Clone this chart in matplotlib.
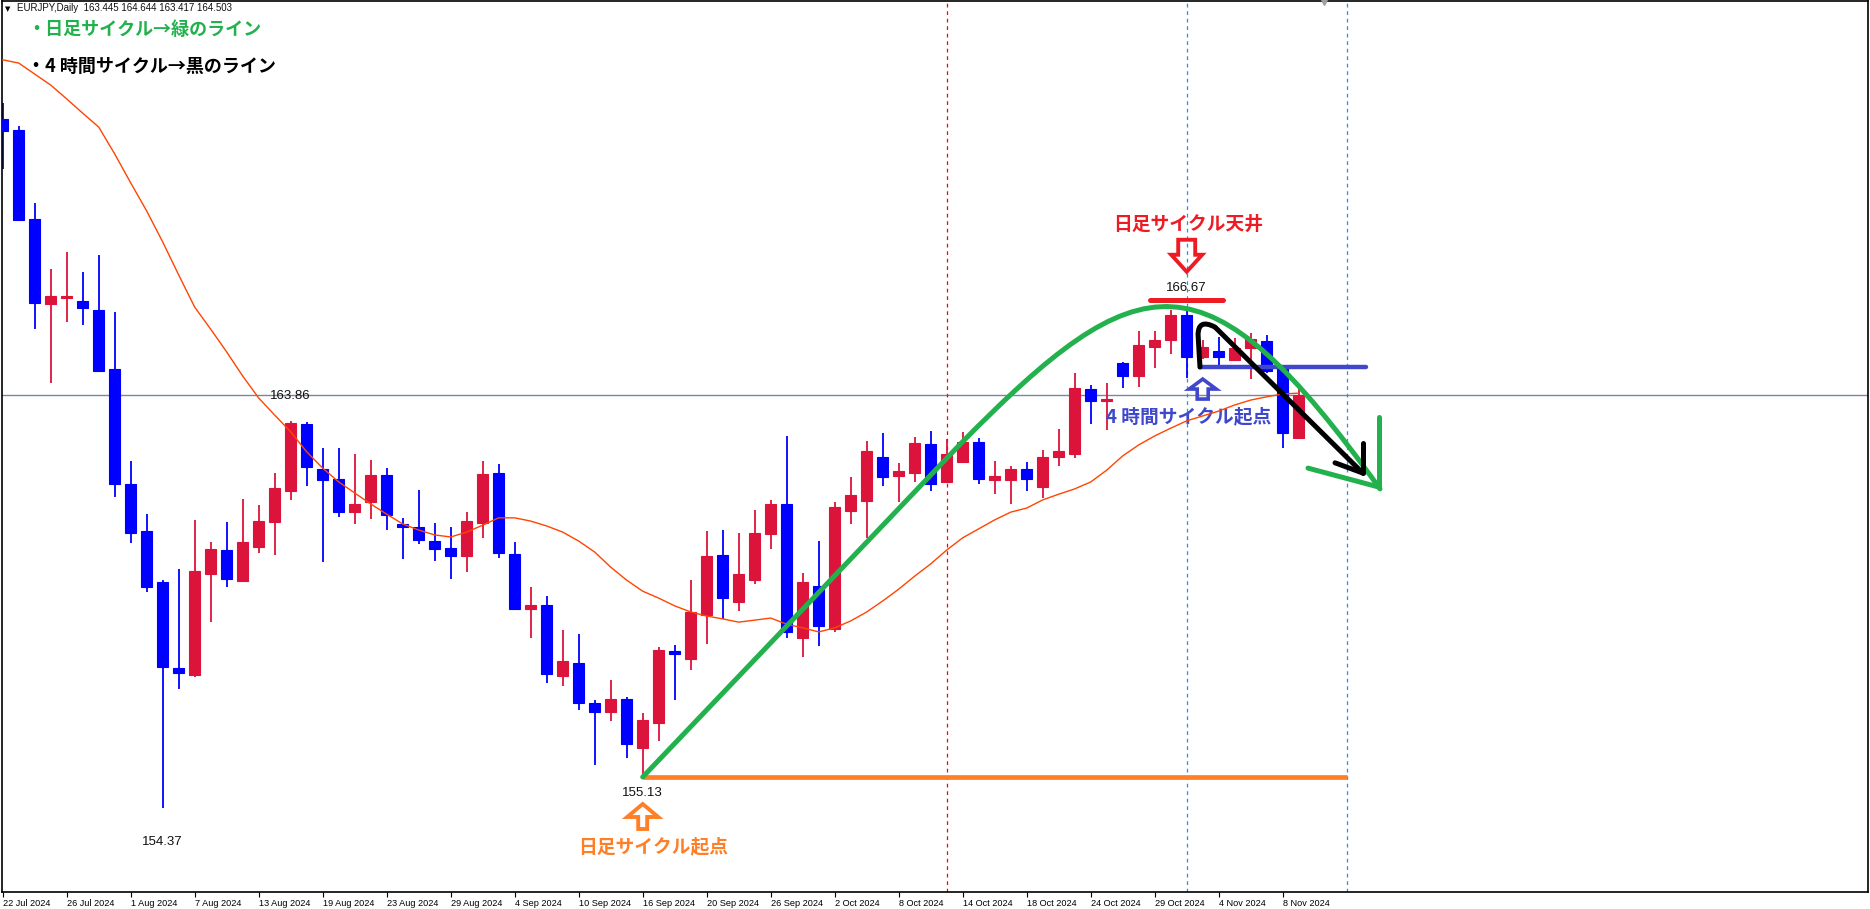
import matplotlib
matplotlib.use("Agg")
import matplotlib.pyplot as plt
import matplotlib.transforms as mtransforms
from matplotlib.patches import Polygon, PathPatch
from matplotlib.path import Path

plt.rcParams['font.family'] = ['Liberation Sans', 'Noto Sans CJK JP', 'DejaVu Sans']
JP = ['Noto Sans CJK JP', 'DejaVu Sans']

# ---- data (EURJPY daily) ----
opens = [171.28, 171.01, 168.82, 166.74, 166.88, 166.81, 166.59, 165.14, 162.33, 161.17,
         159.92, 157.80, 157.63, 160.12, 160.70, 159.95, 160.78, 161.40, 162.16, 163.79,
         162.69, 162.44, 161.64, 161.89, 162.54, 161.34, 161.26, 160.92, 160.75, 160.56,
         161.37, 162.58, 160.60, 159.26, 159.35, 157.61, 157.93, 156.95, 156.73, 157.04,
         155.85, 156.46, 158.22, 158.03, 159.11, 160.58, 159.43, 159.96, 161.09, 161.83,
         158.55, 159.82, 158.76, 161.66, 161.91, 162.99, 162.52, 162.60, 163.29, 162.38,
         162.87, 163.36, 162.42, 162.42, 162.69, 162.25, 162.99, 163.06, 164.65, 164.36,
         165.30, 164.98, 165.69, 165.85, 166.47, 165.44, 165.58, 165.36, 165.65, 165.83,
         165.16, 163.445]
highs = [171.66, 171.11, 169.21, 167.60, 168.01, 167.52, 167.94, 166.55, 162.88, 161.58,
         159.96, 160.23, 161.44, 160.90, 161.39, 161.95, 161.80, 162.59, 163.86, 163.85,
         163.21, 163.20, 163.06, 162.91, 162.71, 161.49, 162.17, 161.37, 161.27, 161.63,
         162.88, 162.81, 160.89, 159.79, 159.57, 158.74, 158.64, 157.02, 157.51, 157.10,
         156.69, 158.33, 158.37, 159.96, 161.17, 161.19, 161.11, 161.68, 161.93, 163.51,
         160.13, 160.92, 161.89, 162.50, 163.38, 163.58, 162.84, 163.48, 163.62, 163.42,
         163.59, 163.44, 162.89, 162.76, 162.87, 163.15, 163.67, 165.04, 164.75, 164.81,
         165.32, 166.07, 166.07, 166.59, 166.67, 165.85, 165.93, 165.90, 166.02, 165.98,
         165.20, 164.644]
lows = [170.05, 168.78, 166.12, 164.81, 166.30, 166.22, 165.08, 162.01, 160.88, 159.68,
        154.37, 157.28, 157.58, 158.94, 159.80, 159.93, 160.63, 160.59, 161.93, 162.28,
        160.41, 161.52, 161.34, 161.46, 161.19, 160.48, 160.85, 160.43, 159.99, 160.17,
        161.00, 160.50, 159.23, 158.55, 157.44, 157.37, 156.77, 155.42, 156.51, 155.60,
        155.13, 156.02, 157.02, 157.76, 158.39, 159.01, 159.21, 159.86, 160.73, 158.53,
        158.08, 158.34, 158.70, 161.34, 160.99, 162.27, 161.89, 162.38, 162.16, 162.36,
        162.83, 162.32, 162.07, 161.83, 162.16, 161.98, 162.77, 162.97, 163.79, 163.65,
        164.67, 164.69, 165.16, 165.50, 164.93, 165.40, 165.24, 165.33, 164.90, 165.05,
        163.20, 163.417]
closes = [170.99, 168.80, 166.77, 166.93, 166.93, 166.65, 165.09, 162.33, 161.13, 159.80,
          157.84, 157.69, 160.19, 160.73, 160.00, 160.90, 161.41, 162.22, 163.81, 162.74,
          162.42, 161.64, 161.83, 162.54, 161.56, 161.27, 160.95, 160.73, 160.56, 161.41,
          162.57, 160.62, 159.25, 159.35, 157.66, 157.98, 156.95, 156.73, 157.04, 155.95,
          156.53, 158.25, 158.15, 159.19, 160.55, 159.53, 160.11, 161.13, 161.83, 158.70,
          159.92, 158.84, 161.75, 162.05, 163.13, 162.50, 162.64, 163.33, 162.31, 163.06,
          163.34, 162.45, 162.52, 162.69, 162.44, 162.98, 163.14, 164.68, 164.36, 164.41,
          164.98, 165.73, 165.85, 166.47, 165.44, 165.69, 165.44, 165.65, 165.87, 165.09,
          163.56, 164.503]
ma = [172.73, 172.65, 172.38, 172.11, 171.77, 171.42, 171.08, 170.42, 169.71, 169.02,
      168.26, 167.45, 166.66, 166.12, 165.56, 164.97, 164.43, 164.01, 163.60, 163.11,
      162.71, 162.37, 162.10, 161.83, 161.58, 161.34, 161.19, 161.07, 161.02, 161.14,
      161.31, 161.49, 161.49, 161.41, 161.29, 161.14, 160.92, 160.65, 160.28, 159.96,
      159.69, 159.52, 159.33, 159.18, 159.08, 159.01, 158.93, 158.98, 159.03, 158.88,
      158.79, 158.69, 158.79, 158.96, 159.18, 159.45, 159.74, 160.06, 160.36, 160.70,
      161.00, 161.22, 161.44, 161.63, 161.73, 161.93, 162.07, 162.20, 162.37, 162.66,
      163.01, 163.28, 163.50, 163.69, 163.87, 163.99, 164.11, 164.26, 164.38, 164.46,
      164.53, 164.55]
date_labels = ["22 Jul 2024", "26 Jul 2024", "1 Aug 2024", "7 Aug 2024", "13 Aug 2024",
               "19 Aug 2024", "23 Aug 2024", "29 Aug 2024", "4 Sep 2024", "10 Sep 2024",
               "16 Sep 2024", "20 Sep 2024", "26 Sep 2024", "2 Oct 2024", "8 Oct 2024",
               "14 Oct 2024", "18 Oct 2024", "24 Oct 2024", "29 Oct 2024", "4 Nov 2024",
               "8 Nov 2024"]
label_step = 4
bid = 164.503
low_bar, top_bar = 40, 74          # daily cycle low / top
cycle4h_level = 165.19             # 4h cycle start level (blue line)
vline_red = [59]
vline_blue = [74, 84]
price_labels = [(18, highs[18], 25), (10, lows[10], -34), (40, lows[40], -16), (74, highs[74], 19)]

UP, DOWN = '#DC143C', '#0000FF'
GREEN, RED, ORANGE, BLUE = '#22B14C', '#ED1C24', '#FF7F27', '#3F48CC'

fig = plt.figure(figsize=(18.70, 9.09), dpi=100)
ax = fig.add_axes([1.5 / 1870, 17 / 909, 1866.5 / 1870, 891 / 909])
ax.set_xlim(-0.075, 116.58)
ax.set_ylim(152.308, 174.173)

n = len(opens)
xs = list(range(n))
cols = [UP if c >= o else DOWN for o, c in zip(opens, closes)]
ax.vlines(xs, lows, highs, colors=cols, lw=1.3, zorder=2)
ax.bar(xs, [abs(c - o) for o, c in zip(opens, closes)],
       bottom=[min(o, c) for o, c in zip(opens, closes)],
       width=0.68, color=cols, edgecolor=cols, lw=0.8, zorder=3)
ax.plot(xs, ma, color='#FF4500', lw=1.0, zorder=4)

ax.axhline(bid, color='#778899', lw=1.0, zorder=1)
for v in vline_red:
    ax.axvline(v, color='#FF0000', lw=0.9, ls=(0, (3, 3)), zorder=1)
for v in vline_blue:
    ax.axvline(v, color='#1E90FF', lw=0.9, ls=(0, (3, 3)), zorder=1)

for xb, yv, off in price_labels:
    ax.annotate(f"{yv:.2f}", (xb, yv), xytext=(0, off), textcoords='offset pixels',
                ha='center', va='center', fontsize=9.5, color='#101010', zorder=6)

# ---- hand-drawn style annotations ----
low_p = lows[low_bar]
top_p = highs[top_bar]
ax.plot([low_bar, vline_blue[1]], [low_p, low_p], color=ORANGE, lw=3.4,
        solid_capstyle='butt', zorder=5)

# green daily-cycle curve
g_verts = [(low_bar, low_p), (59.8, 163.28), (71.1, 167.8), (75.2, 168.16), (86.08, 162.2)]
g_codes = [Path.MOVETO, Path.LINETO, Path.CURVE4, Path.CURVE4, Path.CURVE4]
ax.add_patch(PathPatch(Path(g_verts, g_codes), fill=False, edgecolor=GREEN, lw=3.6,
                       capstyle='round', zorder=7))
ax.plot([81.58, 85.96], [162.71, 162.25], color=GREEN, lw=3.6, solid_capstyle='round', zorder=7)
ax.plot([86.02, 86.02], [163.96, 162.25], color=GREEN, lw=3.6, solid_capstyle='round', zorder=7)

# 4h cycle
ax.plot([74.83, 85.2], [cycle4h_level, cycle4h_level], color=BLUE, lw=3.2,
        solid_capstyle='round', zorder=6)
b_verts = [(74.83, cycle4h_level), (74.71, 165.98), (74.71, 166.39), (75.77, 166.17), (85.0, 162.59)]
b_codes = [Path.MOVETO, Path.LINETO, Path.CURVE3, Path.CURVE3, Path.LINETO]
ax.add_patch(PathPatch(Path(b_verts, b_codes), fill=False, edgecolor='black', lw=3.6,
                       capstyle='round', joinstyle='round', zorder=8))
ax.plot([85.0, 85.0], [163.33, 162.59], color='black', lw=3.6, solid_capstyle='round', zorder=8)
ax.plot([83.27, 85.0], [162.84, 162.59], color='black', lw=3.6, solid_capstyle='round', zorder=8)

# top marker
ax.plot([71.7, 76.27], [166.84, 166.84], color=RED, lw=3.6, solid_capstyle='round', zorder=6)


def block_arrow(xd, yd, dy_px, hw, sw, hl, sl, up, color, lw):
    s = 1 if up else -1
    pts = [(0, 0), (-hw, -s * hl), (-sw, -s * hl), (-sw, -s * (hl + sl)),
           (sw, -s * (hl + sl)), (sw, -s * hl), (hw, -s * hl)]
    pts = [(px / 100, (py + dy_px) / 100) for px, py in pts]
    tr = fig.dpi_scale_trans + mtransforms.ScaledTranslation(xd, yd, ax.transData)
    ax.add_patch(Polygon(pts, closed=True, fill=False, edgecolor=color, lw=lw,
                         joinstyle='miter', transform=tr, zorder=8))


block_arrow(top_bar, top_p, 35, 15.5, 8.5, 17, 15, False, RED, 2.8)
block_arrow(75, cycle4h_level, -12, 13.5, 5.5, 10, 10, True, BLUE, 2.6)
block_arrow(low_bar, low_p, -27, 15.5, 4.5, 13, 12, True, ORANGE, 2.8)

ax.annotate("日足サイクル天井", (top_bar, top_p), xytext=(1, 82), textcoords='offset pixels',
            ha='center', va='center', fontsize=13.5, fontweight='bold', color=RED, family=JP)
ax.annotate("4 時間サイクル起点", (top_bar, cycle4h_level), xytext=(2, -50), textcoords='offset pixels',
            ha='center', va='center', fontsize=13.5, fontweight='bold', color=BLUE, family=JP)
ax.annotate("日足サイクル起点", (low_bar, low_p), xytext=(10, -70), textcoords='offset pixels',
            ha='center', va='center', fontsize=13.5, fontweight='bold', color=ORANGE, family=JP)

# header / legend text
fig.text(5 / 1870, 1 - 9 / 909, "▼", fontsize=5, family='DejaVu Sans', va='center')
fig.text(17 / 1870, 1 - 8 / 909, "EURJPY,Daily  163.445 164.644 163.417 164.503",
         fontsize=7, va='center', color='#101010')
fig.text(27 / 1870, 1 - 29 / 909, "・日足サイクル→緑のライン", fontsize=13, fontweight='bold',
         color=GREEN, family=JP, va='center')
fig.text(27 / 1870, 1 - 66 / 909, "・4 時間サイクル→黒のライン", fontsize=13, fontweight='bold',
         color='black', family=JP, va='center')
ax.plot([82.6], [1.0], marker='v', color='#A0A0A0', ms=6, transform=ax.get_xaxis_transform(),
        clip_on=False, zorder=9)

# axes styling
ax.set_yticks([])
ax.set_xticks(list(range(0, label_step * len(date_labels), label_step)))
ax.set_xticklabels(date_labels)
for lbl in ax.get_xticklabels():
    lbl.set_ha('left')
ax.tick_params(axis='x', direction='out', length=3.5, width=0.8, pad=1.5, labelsize=6.6,
               colors='black')
for sp in ax.spines.values():
    sp.set_color('black')
    sp.set_linewidth(1.2)

fig.savefig("out.png", dpi=100)
